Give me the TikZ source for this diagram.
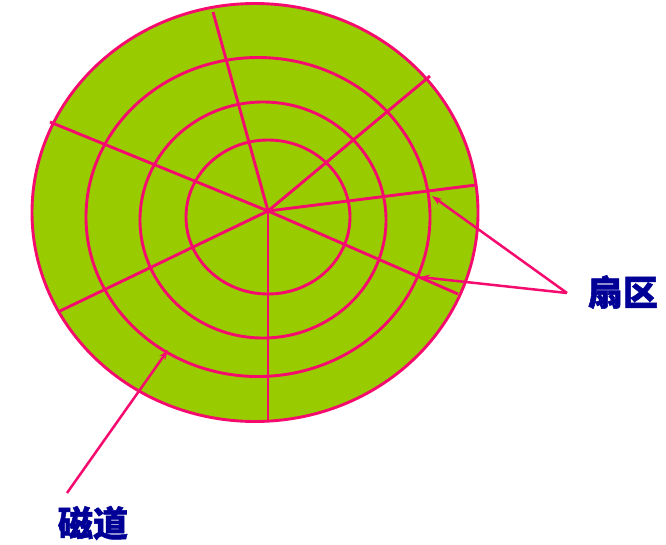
\documentclass[tikz,border=0pt]{standalone}
\usepackage{fontspec}
\newfontfamily\cjk{Noto Sans CJK SC}[BoldFeatures={FakeBold=1.5}]
\usetikzlibrary{arrows.meta}
\definecolor{diskgreen}{RGB}{153,204,0}
\definecolor{trackpink}{RGB}{245,10,110}
\definecolor{labelblue}{RGB}{0,0,150}
\tikzset{track/.style={trackpink,line width=2.9pt},
  pointer/.style={trackpink,line width=2.5pt,-{Stealth[length=10pt,width=7pt]}},
  tag/.style={text=labelblue,font=\cjk\bfseries\fontsize{35}{35}\selectfont,inner sep=0pt}}
\begin{document}
\begin{tikzpicture}[x=1pt,y=-1pt]
\useasboundingbox (0,0) rectangle (666,544);
\draw[track,fill=diskgreen] (255,212.5) ellipse [x radius=223,y radius=209];
\draw[track] (258,217) ellipse [x radius=172,y radius=159.5];
\draw[track] (263,220) ellipse [x radius=123,y radius=118];
\draw[track] (268,217) ellipse [x radius=82,y radius=77];
\coordinate (hub) at (268,211);
\foreach \p in {(213,12),(430,76),(476,185),(458,294),(268,420),(60,311),(50,122)}
  \draw[track] (hub)--\p;
\node[tag] (sector) at (623,292) {扇区};
\node[tag] (track) at (93,523) {磁道};
\coordinate (sectail) at (567,293);
\coordinate (tracktail) at (67,493);
\draw[pointer] (sectail)--(432,196);
\draw[pointer] (sectail)--(420,277);
\draw[pointer] (tracktail)--(168,350);
\end{tikzpicture}
\end{document}
